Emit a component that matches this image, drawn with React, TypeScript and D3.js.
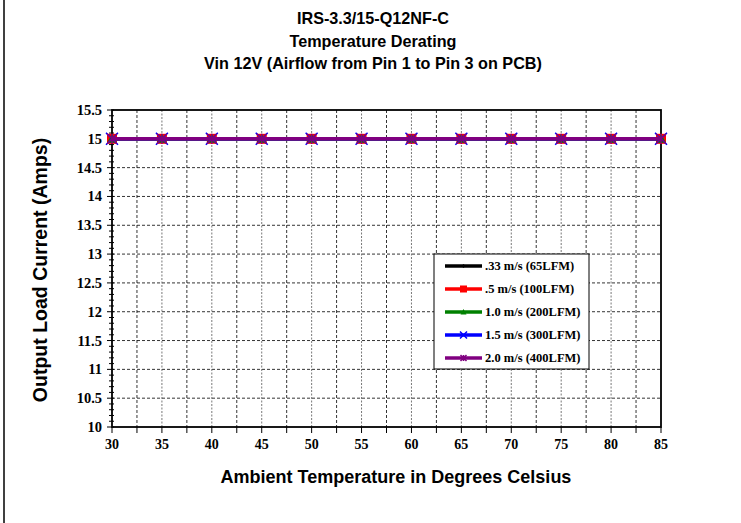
import { useEffect, useRef } from 'react';
import * as d3 from 'd3';

const temps = [30, 35, 40, 45, 50, 55, 60, 65, 70, 75, 80, 85];

const lfm65 = [15, 15, 15, 15, 15, 15, 15, 15, 15, 15, 15, 15];
const lfm100 = [15, 15, 15, 15, 15, 15, 15, 15, 15, 15, 15, 15];
const lfm200 = [15, 15, 15, 15, 15, 15, 15, 15, 15, 15, 15, 15];
const lfm300 = [15, 15, 15, 15, 15, 15, 15, 15, 15, 15, 15, 15];
const lfm400 = [15, 15, 15, 15, 15, 15, 15, 15, 15, 15, 15, 15];

const seriesNames = ['.33 m/s (65LFM)', '.5 m/s (100LFM)', '1.0 m/s (200LFM)', '1.5 m/s (300LFM)', '2.0 m/s (400LFM)'];
const seriesColors = ['#000000', '#ff0000', '#008000', '#0000ff', '#800080'];
const seriesMarkers = ['diamond', 'square', 'triangle', 'cross', 'star'];

const yTicks = [10, 10.5, 11, 11.5, 12, 12.5, 13, 13.5, 14, 14.5, 15, 15.5];

const titleLines = ['IRS-3.3/15-Q12NF-C', 'Temperature Derating', 'Vin 12V (Airflow from Pin 1 to Pin 3 on PCB)'];

const sans = '"Liberation Sans", Arial, sans-serif';
const serif = '"Liberation Serif", "Times New Roman", serif';

export default function App() {
  const svgRef = useRef<SVGSVGElement>(null);

  useEffect(() => {
    document.body.style.margin = '0';
    if (!svgRef.current) return;
    const width = 741;
    const height = 523;
    const svg = d3.select(svgRef.current).attr('viewBox', `0 0 ${width} ${height}`);
    svg.selectAll('*').remove();

    const left = 112, right = 661, top = 110, bottom = 427;
    const x = d3.scaleLinear().domain([30, 85]).range([left, right]);
    const y = d3.scaleLinear().domain([10, 15.5]).range([bottom, top]);

    svg.append('rect').attr('width', width).attr('height', height).attr('fill', '#fff');
    // left page border
    svg.append('line').attr('x1', 4).attr('x2', 4).attr('y1', 0).attr('y2', height)
      .attr('stroke', '#000').attr('stroke-width', 1.5);

    // titles
    svg.append('g').selectAll('text').data(titleLines).enter().append('text')
      .attr('x', 373).attr('y', (_, i) => 24 + i * 22.5)
      .attr('text-anchor', 'middle')
      .style('font-family', sans).style('font-weight', 'bold').style('font-size', '16.2px')
      .text(d => d);

    // grid
    const grid = svg.append('g');
    grid.selectAll('.hg').data(yTicks.filter(v => v > 10 && v < 15.5)).enter().append('line')
      .attr('x1', left).attr('x2', right).attr('y1', d => y(d)).attr('y2', d => y(d))
      .attr('stroke', '#000').attr('stroke-width', 0.8).attr('stroke-dasharray', '3,2');
    const vGrid = d3.range(32.5, 85, 2.5);
    grid.selectAll('.vg').data(vGrid).enter().append('line')
      .attr('x1', d => x(d)).attr('x2', d => x(d)).attr('y1', top).attr('y2', bottom)
      .attr('stroke', (d) => (d % 5 === 0 ? '#555' : '#000'))
      .attr('stroke-width', 0.8).attr('stroke-dasharray', (d) => (d % 5 === 0 ? '2,1.5' : '3,2'));

    // plot frame
    svg.append('rect').attr('x', left).attr('y', top).attr('width', right - left).attr('height', bottom - top)
      .attr('fill', 'none').attr('stroke', '#000').attr('stroke-width', 1.8);

    // y ticks
    const yMinor = d3.range(100, 156).map(v => v / 10);
    svg.append('g').selectAll('line').data(yMinor).enter().append('line')
      .attr('x1', d => (Math.round(d * 10) % 5 === 0 ? left - 5 : left - 3)).attr('x2', left + 2)
      .attr('y1', d => y(d)).attr('y2', d => y(d))
      .attr('stroke', '#000').attr('stroke-width', 1);
    svg.append('g').selectAll('text').data(yTicks).enter().append('text')
      .attr('x', 102).attr('y', d => y(d) + 5).attr('text-anchor', 'end')
      .style('font-family', serif).style('font-weight', 'bold').style('font-size', '14.5px')
      .text(d => String(d));

    // x ticks
    svg.append('g').selectAll('line').data(d3.range(30, 85.1, 2.5)).enter().append('line')
      .attr('x1', d => x(d)).attr('x2', d => x(d)).attr('y1', bottom).attr('y2', bottom + 6)
      .attr('stroke', '#000').attr('stroke-width', 1);
    svg.append('g').selectAll('text').data(temps).enter().append('text')
      .attr('x', d => x(d)).attr('y', 449).attr('text-anchor', 'middle')
      .style('font-family', serif).style('font-weight', 'bold').style('font-size', '14px')
      .text(d => String(d));

    // axis titles
    svg.append('text').attr('x', 396).attr('y', 483).attr('text-anchor', 'middle')
      .style('font-family', sans).style('font-weight', 'bold').style('font-size', '18px')
      .text('Ambient Temperature in Degrees Celsius');
    svg.append('text').attr('transform', 'translate(47,270) rotate(-90)').attr('text-anchor', 'middle')
      .style('font-family', sans).style('font-weight', 'bold').style('font-size', '19.5px')
      .text('Output Load Current (Amps)');

    const drawMarker = (g: d3.Selection<SVGGElement, unknown, null, undefined>, kind: string, color: string, cx: number, cy: number, s: number) => {
      if (kind === 'diamond') {
        g.append('path').attr('d', `M${cx},${cy - s}L${cx + s},${cy}L${cx},${cy + s}L${cx - s},${cy}Z`).attr('fill', color);
      } else if (kind === 'square') {
        g.append('rect').attr('x', cx - s).attr('y', cy - s).attr('width', 2 * s).attr('height', 2 * s).attr('fill', color);
      } else if (kind === 'triangle') {
        g.append('path').attr('d', `M${cx},${cy - s}L${cx + s},${cy + s * 0.8}L${cx - s},${cy + s * 0.8}Z`).attr('fill', color);
      } else if (kind === 'cross') {
        g.append('path').attr('d', `M${cx - s},${cy - s}L${cx + s},${cy + s}M${cx - s},${cy + s}L${cx + s},${cy - s}`)
          .attr('stroke', color).attr('stroke-width', 1.5);
      } else {
        g.append('path').attr('d', `M${cx - s},${cy - s}L${cx + s},${cy + s}M${cx - s},${cy + s}L${cx + s},${cy - s}M${cx},${cy - s}L${cx},${cy + s}`)
          .attr('stroke', color).attr('stroke-width', 1.5);
      }
    };

    const allSeries = [lfm65, lfm100, lfm200, lfm300, lfm400];
    const line = d3.line<number>().x((_, i) => x(temps[i])).y(d => y(d));
    const markerSize = [3, 5, 5, 6, 5];
    allSeries.forEach((vals, si) => {
      const g = svg.append('g');
      g.append('path').attr('d', line(vals)).attr('fill', 'none')
        .attr('stroke', seriesColors[si]).attr('stroke-width', 3.5);
      vals.forEach((v, i) => drawMarker(g, seriesMarkers[si], seriesColors[si], x(temps[i]), y(v), markerSize[si]));
    });

    // legend
    const lg = svg.append('g');
    lg.append('rect').attr('x', 434).attr('y', 254).attr('width', 155).attr('height', 115)
      .attr('fill', '#fff').attr('stroke', '#000').attr('stroke-width', 1);
    seriesNames.forEach((name, i) => {
      const ly = 266 + i * 23;
      const g = lg.append('g');
      g.append('line').attr('x1', 445).attr('x2', 482).attr('y1', ly).attr('y2', ly)
        .attr('stroke', seriesColors[i]).attr('stroke-width', 3.5);
      drawMarker(g, seriesMarkers[i], seriesColors[i], 463.5, ly, [2, 3.5, 3, 3.5, 3][i]);
      g.append('text').attr('x', 485).attr('y', ly + 4).text(name)
        .style('font-family', serif).style('font-weight', 'bold').style('font-size', '12.5px');
    });
  }, []);

  return <svg ref={svgRef} width={741} height={523} style={{ display: 'block' }} />;
}
